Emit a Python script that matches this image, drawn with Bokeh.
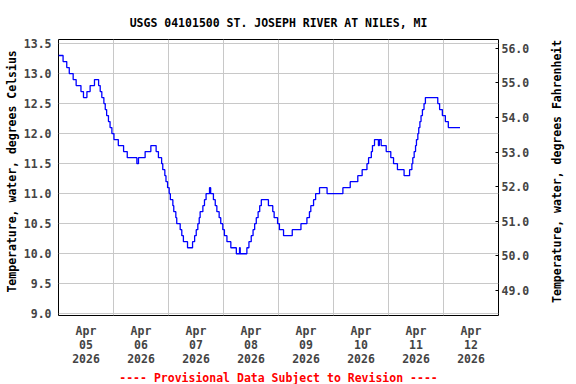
import math
from bokeh.plotting import figure
from bokeh.layouts import row
from bokeh.models import Range1d, LinearAxis, FixedTicker, NumeralTickFormatter, Title
from bokeh.core.properties import value
from bokeh.embed import file_html
from bokeh.resources import INLINE

# Hours since 2026-04-05 00:00 at which the reading changes, and the reading (deg C)
hours = [0, 2.0, 3.6, 4.7, 6.4, 7.7, 9.8, 10.9, 12.4, 13.8, 15.7, 17.5, 18.2, 18.9, 19.8,
         20.4, 21.0, 21.8, 22.5, 23.3, 24.2, 26.1, 28.4, 30.0, 34.2, 34.9, 37.8, 40.3,
         42.6, 43.6, 45.0, 45.5, 46.4, 46.9, 47.6, 48.3, 48.8, 49.9, 50.3, 51.2, 51.6,
         53.1, 53.8, 54.5, 56.3, 58.5, 59.4, 60.1, 60.8, 61.4, 61.8, 63.0, 63.7, 64.4,
         65.9, 66.4, 67.6, 68.4, 69.1, 70.1, 70.8, 71.7, 72.4, 73.5, 75.2, 77.6, 79.0,
         79.3, 82.2, 83.1, 84.1, 84.9, 85.6, 86.3, 87.1, 87.8, 88.5, 91.6, 93.5, 94.1,
         95.6, 96.4, 98.2, 102.0, 105.8, 108.4, 109.5, 110.1, 111.3, 112.2, 113.9, 117.2,
         124.1, 127.3, 130.6, 132.5, 134.6, 135.3, 136.5, 137.0, 137.9, 139.6, 140.0,
         140.8, 143.0, 145.0, 146.2, 147.9, 150.8, 153.2, 154.2, 154.6, 155.2, 155.8,
         156.2, 156.8, 157.2, 157.7, 158.2, 158.8, 159.5, 160.1, 165.5, 166.3, 167.5,
         168.8, 170.1, 175.2]
temps_c = [13.3, 13.2, 13.1, 13.0, 12.9, 12.8, 12.7, 12.6, 12.7, 12.8, 12.9, 12.8, 12.7, 12.6, 12.5,
           12.4, 12.3, 12.2, 12.1, 12.0, 11.9, 11.8, 11.7, 11.6, 11.5, 11.6, 11.7, 11.8,
           11.7, 11.6, 11.5, 11.4, 11.3, 11.2, 11.1, 11.0, 10.9, 10.8, 10.7, 10.6, 10.5,
           10.4, 10.3, 10.2, 10.1, 10.2, 10.3, 10.4, 10.5, 10.6, 10.7, 10.8, 10.9, 11.0,
           11.1, 11.0, 10.9, 10.8, 10.7, 10.6, 10.5, 10.4, 10.3, 10.2, 10.1, 10.0, 10.1,
           10.0, 10.1, 10.2, 10.3, 10.4, 10.5, 10.6, 10.7, 10.8, 10.9, 10.8, 10.7, 10.6,
           10.5, 10.4, 10.3, 10.4, 10.5, 10.6, 10.7, 10.8, 10.9, 11.0, 11.1, 11.0,
           11.1, 11.2, 11.3, 11.4, 11.5, 11.6, 11.7, 11.8, 11.9, 11.8, 11.9,
           11.8, 11.7, 11.6, 11.5, 11.4, 11.3, 11.4, 11.5, 11.6, 11.7, 11.8,
           11.9, 12.0, 12.1, 12.2, 12.3, 12.4, 12.5, 12.6, 12.5, 12.4, 12.3,
           12.2, 12.1, 12.1]

day_ticks = [12, 36, 60, 84, 108, 132, 156, 180]
day_labels = ["Apr\n05\n2026", "Apr\n06\n2026", "Apr\n07\n2026", "Apr\n08\n2026",
              "Apr\n09\n2026", "Apr\n10\n2026", "Apr\n11\n2026", "Apr\n12\n2026"]
midnights = [24, 48, 72, 96, 120, 144, 168]
c_ticks = [9.0, 9.5, 10.0, 10.5, 11.0, 11.5, 12.0, 12.5, 13.0, 13.5]
f_ticks = [49.0, 50.0, 51.0, 52.0, 53.0, 54.0, 55.0, 56.0]

TITLE = "USGS 04101500 ST. JOSEPH RIVER AT NILES, MI"
NOTE = "---- Provisional Data Subject to Revision ----"
LEFT_LABEL = "Temperature, water, degrees Celsius"
RIGHT_LABEL = "Temperature, water, degrees Fahrenheit"
FONT = "DejaVu Sans Mono"
FS = "11.5px"

H = 384
LEFT_W, MAIN_W, RIGHT_W = 20, 525, 31

p = figure(width=MAIN_W, height=H, output_backend="svg", toolbar_location=None,
           x_range=Range1d(0, 192), y_range=Range1d(8.9717, 13.5667),
           min_border_left=38, min_border_right=47, min_border_top=39, min_border_bottom=69,
           background_fill_color="white", border_fill_color="white")

p.outline_line_color = "black"
p.outline_line_width = 1

p.title.text = TITLE
p.title.align = "center"
p.title.text_font = FONT
p.title.text_font_size = FS
p.title.text_font_style = "bold"
p.title.text_color = "black"
p.title.standoff = 20

note = Title(text=NOTE, align="center", text_font=FONT, text_font_size=FS,
             text_font_style="bold", text_color="#ff0000", standoff=0)
p.add_layout(note, "below")

# bottom axis
xa = p.xaxis[0]
xa.ticker = FixedTicker(ticks=day_ticks)
xa.major_label_overrides = dict(zip(day_ticks, day_labels))
xa.major_label_text_font = FONT
xa.major_label_text_font_size = FS
xa.major_label_text_font_style = "bold"
xa.major_label_text_line_height = 1.0
xa.major_label_standoff = 8
xa.major_tick_out = 0
xa.major_tick_in = 0
xa.major_tick_line_color = None
xa.minor_tick_line_color = None
xa.axis_line_color = None

# left axis
ya = p.yaxis[0]
ya.ticker = FixedTicker(ticks=c_ticks)
ya.formatter = NumeralTickFormatter(format="0.0")
ya.major_label_text_font = FONT
ya.major_label_text_font_size = FS
ya.major_label_text_font_style = "bold"
ya.major_label_standoff = 7
ya.major_tick_out = 0
ya.major_tick_in = 0
ya.major_tick_line_color = None
ya.minor_tick_line_color = None
ya.axis_line_color = None

# right axis (Fahrenheit)
p.extra_y_ranges = {"f": Range1d(48.277, 56.252)}
ra = LinearAxis(y_range_name="f", ticker=FixedTicker(ticks=f_ticks),
                formatter=NumeralTickFormatter(format="0.0"))
ra.major_label_text_font = FONT
ra.major_label_text_font_size = FS
ra.major_label_text_font_style = "bold"
ra.major_label_standoff = 3
ra.major_tick_in = 3
ra.major_tick_out = 0
ra.major_tick_line_color = "black"
ra.minor_tick_line_color = None
ra.axis_line_color = None
p.add_layout(ra, "right")

p.xgrid.ticker = FixedTicker(ticks=midnights)
p.ygrid.ticker = FixedTicker(ticks=c_ticks)
p.xgrid.grid_line_color = "#c8c8c8"
p.ygrid.grid_line_color = "#c8c8c8"
p.xgrid.grid_line_width = 1
p.ygrid.grid_line_width = 1

p.step(hours, temps_c, mode="after", line_color="#0000ff", line_width=1.3)


def side_panel(w, text, cx):
    # narrow strip holding a rotated axis title (reads bottom-to-top)
    s = figure(width=w, height=H, output_backend="svg", toolbar_location=None,
               x_range=Range1d(0, w), y_range=Range1d(H, 0),
               min_border_left=0, min_border_right=0, min_border_top=0, min_border_bottom=0,
               background_fill_color="white", border_fill_color="white")
    s.axis.visible = False
    s.grid.visible = False
    s.outline_line_color = None
    s.text(x=[cx], y=[183.5], text=[text], angle=math.pi / 2,
           text_align="center", text_baseline="middle",
           text_font=value(FONT), text_font_size=value(FS), text_font_style="bold",
           text_color="black")
    return s


left_strip = side_panel(LEFT_W, LEFT_LABEL, 11.0)
right_strip = side_panel(RIGHT_W, RIGHT_LABEL, 11.7)

layout = row(left_strip, p, right_strip)
open("out.html", "w").write(file_html(layout, INLINE))
